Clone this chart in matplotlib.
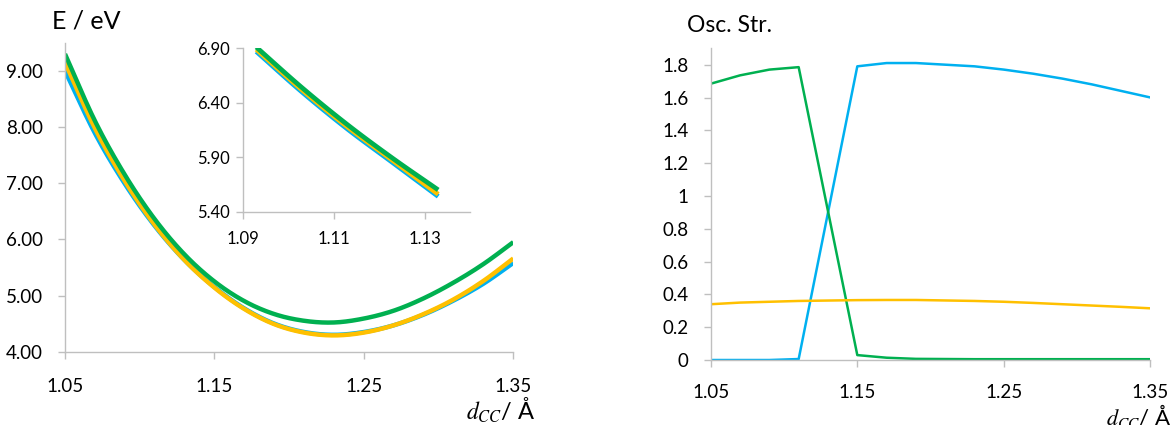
import numpy as np
import matplotlib
matplotlib.use("Agg")
import matplotlib.pyplot as plt

plt.rcParams['font.family'] = ['Lato', 'DejaVu Sans']
plt.rcParams['mathtext.fontset'] = 'stix'

# --- data ---
d_cc = [1.05, 1.07, 1.09, 1.11, 1.13, 1.15, 1.17, 1.19,
        1.21, 1.23, 1.25, 1.27, 1.29, 1.31, 1.33, 1.35]
e_blue = [9.00, 7.89, 6.99, 6.24, 5.63, 5.15, 4.77, 4.50,
          4.35, 4.30, 4.35, 4.47, 4.66, 4.91, 5.21, 5.58]
e_yellow = [9.15, 7.98, 7.04, 6.26, 5.63, 5.14, 4.76, 4.49,
            4.34, 4.29, 4.34, 4.47, 4.67, 4.93, 5.26, 5.66]
e_green = [9.30, 8.11, 7.15, 6.36, 5.73, 5.25, 4.90, 4.67,
           4.55, 4.52, 4.59, 4.73, 4.95, 5.23, 5.56, 5.95]

# inset (zoomed region)
d_in = [1.093, 1.103, 1.113, 1.123, 1.133]
in_blue = [6.87, 6.50, 6.16, 5.85, 5.54]
in_yellow = [6.89, 6.52, 6.18, 5.87, 5.56]
in_green = [6.91, 6.54, 6.20, 5.89, 5.60]

# oscillator strengths
d_osc = [1.05, 1.07, 1.09, 1.11, 1.15, 1.17, 1.19, 1.21,
         1.23, 1.25, 1.27, 1.29, 1.31, 1.33, 1.35]
f_blue = [0.0, 0.0, 0.0, 0.006, 1.79, 1.81, 1.81, 1.80,
          1.79, 1.77, 1.745, 1.715, 1.68, 1.64, 1.60]
f_yellow = [0.34, 0.35, 0.355, 0.36, 0.365, 0.366, 0.366, 0.363,
            0.36, 0.355, 0.348, 0.34, 0.332, 0.324, 0.315]
f_green = [1.684, 1.735, 1.77, 1.785, 0.03, 0.014, 0.007, 0.006,
           0.005, 0.005, 0.005, 0.005, 0.005, 0.005, 0.005]

BLUE = '#00B0F0'
YELLOW = '#FFC000'
GREEN = '#00B050'
GRID = '#BFBFBF'


def smooth(x, y, n=25):
    # Catmull-Rom curve through the points (like Excel "smoothed line")
    x = np.asarray(x, float)
    y = np.asarray(y, float)
    px = np.concatenate([[2 * x[0] - x[1]], x, [2 * x[-1] - x[-2]]])
    py = np.concatenate([[2 * y[0] - y[1]], y, [2 * y[-1] - y[-2]]])
    t = np.linspace(0, 1, n, endpoint=False)
    xs, ys = [], []
    for i in range(1, len(px) - 2):
        for p, out in ((px, xs), (py, ys)):
            p0, p1, p2, p3 = p[i - 1], p[i], p[i + 1], p[i + 2]
            out.append(0.5 * (2 * p1 + (-p0 + p2) * t
                              + (2 * p0 - 5 * p1 + 4 * p2 - p3) * t ** 2
                              + (-p0 + 3 * p1 - 3 * p2 + p3) * t ** 3))
    xs.append([x[-1]])
    ys.append([y[-1]])
    return np.concatenate(xs), np.concatenate(ys)


def excel_axes(ax, fs, ypad, xpad):
    for s in ('top', 'right'):
        ax.spines[s].set_visible(False)
    for s in ('left', 'bottom'):
        ax.spines[s].set_color(GRID)
        ax.spines[s].set_linewidth(1.0)
    ax.tick_params(axis='both', colors=GRID, length=5, width=1.0,
                   labelcolor='black', labelsize=fs)
    ax.tick_params(axis='y', pad=ypad)
    ax.tick_params(axis='x', pad=xpad)


fig = plt.figure(figsize=(11.73, 4.25), dpi=100)

# --- left: excitation energies ---
ax1 = fig.add_axes([0.0554, 0.1725, 0.3822, 0.727])
for yv, c in ((e_blue, BLUE), (e_yellow, YELLOW), (e_green, GREEN)):
    xs, ys = smooth(d_cc, yv)
    ax1.plot(xs, ys, color=c, lw=3.2, solid_capstyle='butt')
ax1.set_xlim(1.05, 1.35)
ax1.set_ylim(4.0, 9.5)
ax1.set_xticks([1.05, 1.15, 1.25, 1.35])
ax1.set_xticklabels(['1.05', '1.15', '1.25', '1.35'])
ax1.set_yticks([4, 5, 6, 7, 8, 9])
ax1.set_yticklabels(['4.00', '5.00', '6.00', '7.00', '8.00', '9.00'])
excel_axes(ax1, 13.5, 11, 14)

fig.text(0.044, 0.95, 'E / eV', fontsize=18, va='center', ha='left')
fig.text(0.457, 0.012, r'$d_{CC}$/ Å', fontsize=17, ha='right', va='baseline')

# inset
ax_in = fig.add_axes([0.2069, 0.5019, 0.1938, 0.3845])
for yv, c in ((in_blue, BLUE), (in_yellow, YELLOW), (in_green, GREEN)):
    xs, ys = smooth(d_in, yv)
    ax_in.plot(xs, ys, color=c, lw=3.4, solid_capstyle='butt')
ax_in.set_xlim(1.09, 1.14)
ax_in.set_ylim(5.40, 6.90)
ax_in.set_xticks([1.09, 1.11, 1.13])
ax_in.set_xticklabels(['1.09', '1.11', '1.13'])
ax_in.set_yticks([5.40, 5.90, 6.40, 6.90])
ax_in.set_yticklabels(['5.40', '5.90', '6.40', '6.90'])
excel_axes(ax_in, 12, 4, 9)

# --- right: oscillator strengths ---
ax2 = fig.add_axes([0.6059, 0.1529, 0.3749, 0.7335])
ax2.plot(d_osc, f_blue, color=BLUE, lw=1.8)
ax2.plot(d_osc, f_green, color=GREEN, lw=1.8)
ax2.plot(d_osc, f_yellow, color=YELLOW, lw=1.8)
ax2.set_xlim(1.05, 1.35)
ax2.set_ylim(0, 1.9)
ax2.set_xticks([1.05, 1.15, 1.25, 1.35])
ax2.set_xticklabels(['1.05', '1.15', '1.25', '1.35'])
ax2.set_yticks([0, 0.2, 0.4, 0.6, 0.8, 1.0, 1.2, 1.4, 1.6, 1.8])
ax2.set_yticklabels(['0', '0.2', '0.4', '0.6', '0.8', '1', '1.2', '1.4', '1.6', '1.8'])
excel_axes(ax2, 13.5, 11, 12)

fig.text(0.586, 0.94, 'Osc. Str.', fontsize=16.5, va='center', ha='left')
fig.text(0.999, 0.0, r'$d_{CC}$/ Å', fontsize=16, ha='right', va='baseline')

fig.savefig('out.png', dpi=100)
